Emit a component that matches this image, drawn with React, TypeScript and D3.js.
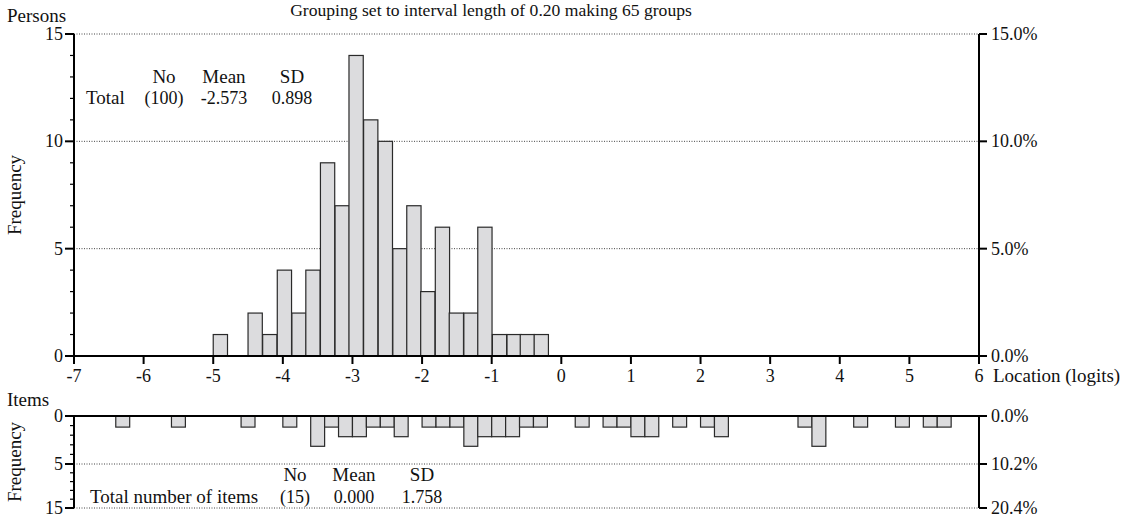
import { useRef, useEffect } from 'react';
import * as d3 from 'd3';

// person-location histogram (logits), bin lower edges
const personBinStart = [-5.0, -4.5, -4.29, -4.08, -3.87, -3.67, -3.46, -3.25, -3.05, -2.84, -2.63,
  -2.42, -2.22, -2.02, -1.81, -1.61, -1.40, -1.20, -0.99, -0.78, -0.59, -0.39];
const personCounts = [1, 2, 1, 4, 2, 4, 9, 7, 14, 11, 10, 5, 7, 3, 6, 2, 2, 6, 1, 1, 1, 1];
const personBinWidth = 0.205;

// item-location histogram (hangs down from the zero line)
const itemBinStart = [-6.4, -5.6, -4.6, -4.0, -3.6, -3.4, -3.2, -3.0, -2.8, -2.6, -2.4,
  -2.0, -1.8, -1.6, -1.4, -1.2, -1.0, -0.8, -0.6, -0.4,
  0.2, 0.6, 0.8, 1.0, 1.2, 1.6, 2.0, 2.2, 3.4, 3.6, 4.2, 4.8, 5.2, 5.4];
const itemCounts = [1, 1, 1, 1, 3, 1, 2, 2, 1, 1, 2,
  1, 1, 1, 3, 2, 2, 2, 1, 1,
  1, 1, 1, 2, 2, 1, 1, 2, 1, 3, 1, 1, 1, 1];
const itemBinWidth = 0.2;

const xTickValues = [-7, -6, -5, -4, -3, -2, -1, 0, 1, 2, 3, 4, 5, 6];
const personTicks = [0, 5, 10, 15];
const itemTicks = [0, 5, 10];
const itemTickLabels = ['0', '5', '15'];

const statHeaders = ['No', 'Mean', 'SD'];
const personStats = ['(100)', '-2.573', '0.898'];
const itemStats = ['(15)', '0.000', '1.758'];

const title = 'Grouping set to interval length of 0.20 making 65 groups';

const W = 1131;
const H = 516;
const FONT = '"Liberation Serif", "Times New Roman", serif';
const WORD = 19;
const NUM = 18;

export default function App() {
  const svgRef = useRef<SVGSVGElement>(null);

  useEffect(() => {
    const svg = d3.select(svgRef.current);
    svg.selectAll('*').remove();

    const x = d3.scaleLinear().domain([-7, 6]).range([74, 979]);
    const yTop = d3.scaleLinear().domain([0, 15]).range([356, 34]);
    const yBot = d3.scaleLinear().domain([0, 5, 10]).range([416, 464, 508]);

    const personTotal = d3.sum(personCounts);
    const itemTotal = d3.sum(itemCounts);

    const g = svg.append('g')
      .attr('font-family', FONT)
      .attr('font-size', NUM)
      .attr('fill', '#111');

    const dotted = (sel: any) => sel
      .attr('stroke', '#444')
      .attr('stroke-width', 1)
      .attr('stroke-dasharray', '1,1.5');

    // ---- top panel ----
    g.append('g').selectAll('line')
      .data(personTicks.filter(d => d > 0))
      .join('line')
      .attr('x1', x(-7)).attr('x2', x(6))
      .attr('y1', d => yTop(d)).attr('y2', d => yTop(d))
      .call(dotted);

    g.append('g').selectAll('rect')
      .data(personCounts)
      .join('rect')
      .attr('x', (d, i) => x(personBinStart[i]))
      .attr('width', (d, i) => x(personBinStart[i] + personBinWidth) - x(personBinStart[i]))
      .attr('y', d => yTop(d))
      .attr('height', d => yTop(0) - yTop(d))
      .attr('fill', '#dcdcde')
      .attr('stroke', '#2a2a2a')
      .attr('stroke-width', 1.2);

    const axisLine = (x1: number, y1: number, x2: number, y2: number) =>
      g.append('line')
        .attr('x1', x1).attr('y1', y1).attr('x2', x2).attr('y2', y2)
        .attr('stroke', '#000').attr('stroke-width', 2);

    axisLine(x(-7), yTop(15), x(-7), yTop(0) + 1);
    axisLine(x(6), yTop(15), x(6), yTop(0) + 1);
    axisLine(x(-7) - 1, yTop(0), x(6) + 1, yTop(0));

    // left minor + major ticks
    g.append('g').selectAll('line')
      .data(d3.range(0, 16))
      .join('line')
      .attr('x1', d => x(-7) - (d % 5 === 0 ? 9 : 4)).attr('x2', x(-7))
      .attr('y1', d => yTop(d)).attr('y2', d => yTop(d))
      .attr('stroke', '#000').attr('stroke-width', d => (d % 5 === 0 ? 2 : 1.2));

    g.append('g').selectAll('text')
      .data(personTicks)
      .join('text')
      .attr('x', x(-7) - 11)
      .attr('y', d => yTop(d) + 6)
      .attr('text-anchor', 'end')
      .text(d => d);

    // right percent axis
    g.append('g').selectAll('line')
      .data(personTicks)
      .join('line')
      .attr('x1', x(6)).attr('x2', x(6) + 8)
      .attr('y1', d => yTop(d)).attr('y2', d => yTop(d))
      .attr('stroke', '#000').attr('stroke-width', 2);

    g.append('g').selectAll('text')
      .data(personTicks)
      .join('text')
      .attr('x', x(6) + 12)
      .attr('y', d => yTop(d) + 6)
      .text(d => `${(d / personTotal * 100).toFixed(1)}%`);

    // x axis
    g.append('g').selectAll('line')
      .data(xTickValues)
      .join('line')
      .attr('x1', d => x(d)).attr('x2', d => x(d))
      .attr('y1', yTop(0)).attr('y2', yTop(0) + 8)
      .attr('stroke', '#000').attr('stroke-width', 2);

    g.append('g').selectAll('text')
      .data(xTickValues)
      .join('text')
      .attr('x', d => x(d))
      .attr('y', yTop(0) + 26)
      .attr('text-anchor', 'middle')
      .text(d => d);

    g.append('text').attr('x', x(6) + 14).attr('y', yTop(0) + 26)
      .attr('font-size', WORD).text('Location (logits)');
    g.append('text').attr('x', 7).attr('y', 22).attr('font-size', WORD).text('Persons');
    g.append('text').attr('x', 491).attr('y', 16).attr('font-size', 17.6)
      .attr('text-anchor', 'middle').text(title);
    g.append('text')
      .attr('transform', `translate(21,${(yTop(15) + yTop(0)) / 2}) rotate(-90)`)
      .attr('text-anchor', 'middle')
      .attr('font-size', WORD)
      .text('Frequency');

    // stats block
    const topCols = [164, 224, 292];
    g.append('g').selectAll('text')
      .data(statHeaders)
      .join('text')
      .attr('x', (d, i) => topCols[i]).attr('y', 83)
      .attr('font-size', WORD)
      .attr('text-anchor', 'middle').text(d => d);
    g.append('text').attr('x', 86).attr('y', 104).attr('font-size', WORD).text('Total');
    g.append('g').selectAll('text')
      .data(personStats)
      .join('text')
      .attr('x', (d, i) => topCols[i]).attr('y', 104)
      .attr('text-anchor', 'middle').text(d => d);

    // ---- bottom panel ----
    g.append('g').selectAll('line')
      .data(itemTicks.filter(d => d > 0))
      .join('line')
      .attr('x1', x(-7)).attr('x2', x(6))
      .attr('y1', d => yBot(d)).attr('y2', d => yBot(d))
      .call(dotted);

    g.append('g').selectAll('rect')
      .data(itemCounts)
      .join('rect')
      .attr('x', (d, i) => x(itemBinStart[i]))
      .attr('width', (d, i) => x(itemBinStart[i] + itemBinWidth) - x(itemBinStart[i]))
      .attr('y', yBot(0))
      .attr('height', d => yBot(d) - yBot(0) + 1.5)
      .attr('fill', '#dcdcde')
      .attr('stroke', '#2a2a2a')
      .attr('stroke-width', 1.2);

    axisLine(x(-7) - 1, yBot(0), x(6) + 1, yBot(0));
    axisLine(x(-7), yBot(0), x(-7), yBot(10));
    axisLine(x(6), yBot(0), x(6), yBot(10));

    g.append('g').selectAll('line')
      .data(d3.range(0, 11))
      .join('line')
      .attr('x1', d => x(-7) - (d % 5 === 0 ? 9 : 4)).attr('x2', x(-7))
      .attr('y1', d => yBot(d)).attr('y2', d => yBot(d))
      .attr('stroke', '#000').attr('stroke-width', d => (d % 5 === 0 ? 2 : 1.2));

    g.append('g').selectAll('text')
      .data(itemTicks)
      .join('text')
      .attr('x', x(-7) - 11)
      .attr('y', d => yBot(d) + 6)
      .attr('text-anchor', 'end')
      .text((d, i) => itemTickLabels[i]);

    g.append('g').selectAll('line')
      .data(itemTicks)
      .join('line')
      .attr('x1', x(6)).attr('x2', x(6) + 8)
      .attr('y1', d => yBot(d)).attr('y2', d => yBot(d))
      .attr('stroke', '#000').attr('stroke-width', 2);

    g.append('g').selectAll('text')
      .data(itemTicks)
      .join('text')
      .attr('x', x(6) + 12)
      .attr('y', d => yBot(d) + 6)
      .text(d => `${(d / itemTotal * 100).toFixed(1)}%`);

    g.append('text').attr('x', 7).attr('y', 406).attr('font-size', WORD).text('Items');
    g.append('text')
      .attr('transform', `translate(21,${(yBot(0) + yBot(10)) / 2}) rotate(-90)`)
      .attr('text-anchor', 'middle')
      .attr('font-size', WORD)
      .text('Frequency');

    const botCols = [295, 354, 422];
    g.append('g').selectAll('text')
      .data(statHeaders)
      .join('text')
      .attr('x', (d, i) => botCols[i]).attr('y', 481)
      .attr('font-size', WORD)
      .attr('text-anchor', 'middle').text(d => d);
    g.append('text').attr('x', 90).attr('y', 503).attr('font-size', WORD).text('Total number of items');
    g.append('g').selectAll('text')
      .data(itemStats)
      .join('text')
      .attr('x', (d, i) => botCols[i]).attr('y', 503)
      .attr('text-anchor', 'middle').text(d => d);
  }, []);

  return (
    <svg
      ref={svgRef}
      width={W}
      height={H}
      style={{ position: 'absolute', left: 0, top: 0, background: '#fff' }}
    />
  );
}
